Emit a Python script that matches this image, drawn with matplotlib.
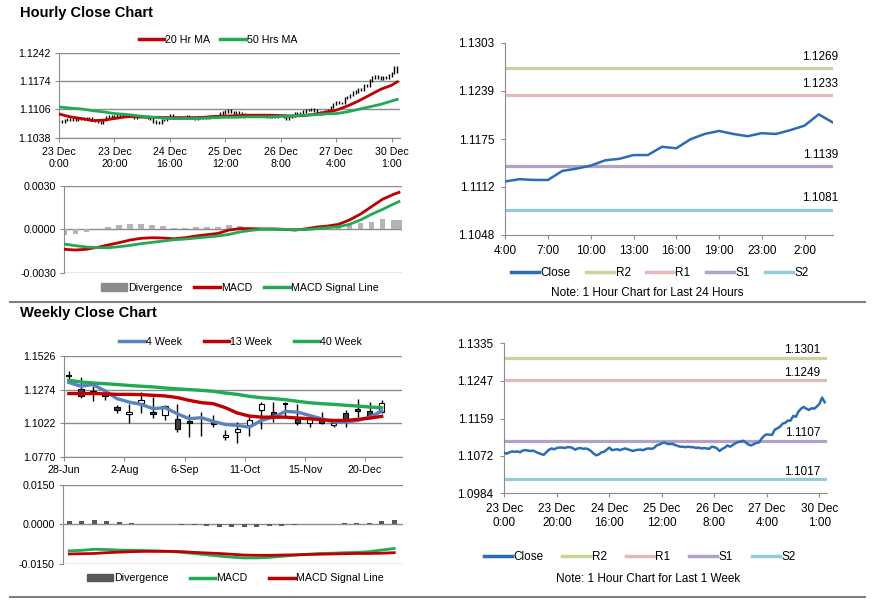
import numpy as np
import matplotlib
matplotlib.use("Agg")
import matplotlib.pyplot as plt
from matplotlib.lines import Line2D
from matplotlib.patches import Patch, Rectangle

plt.rcParams["font.family"] = ["Liberation Sans", "DejaVu Sans"]

# ---------------- data ----------------
# hourly closes, 23 Dec 0:00 -> 30 Dec ~3:00 (last 24 of them are the "24 hours" chart)
day_close = [1.1119, 1.1122, 1.1121, 1.1121, 1.1133, 1.1136, 1.1140, 1.1147, 1.1149, 1.1154, 1.1154, 1.1165,
             1.1163, 1.1175, 1.1182, 1.1186, 1.1182, 1.1179, 1.1183, 1.1182, 1.1187, 1.1193, 1.1208, 1.1197]
early_close = [1.1078, 1.1077, 1.1080, 1.1082, 1.1081, 1.1082, 1.1080, 1.1084, 1.1085, 1.1084,
               1.1083, 1.1084, 1.1081, 1.1078, 1.1076, 1.1074, 1.1080, 1.1086, 1.1089, 1.1087,
               1.1090, 1.1091, 1.1091, 1.1090, 1.1092, 1.1092, 1.1090, 1.1086, 1.1089, 1.1090,
               1.1088, 1.1089, 1.1087, 1.1083, 1.1077, 1.1073, 1.1075, 1.1080, 1.1081, 1.1086,
               1.1091, 1.1085, 1.1086, 1.1087, 1.1085, 1.1087, 1.1089, 1.1087, 1.1085, 1.1083,
               1.1085, 1.1086, 1.1086, 1.1085, 1.1088, 1.1089, 1.1088, 1.1090, 1.1096, 1.1098,
               1.1101, 1.1103, 1.1100, 1.1099, 1.1100, 1.1097, 1.1095, 1.1093, 1.1093, 1.1092,
               1.1093, 1.1092, 1.1092, 1.1090, 1.1091, 1.1089, 1.1090, 1.1089, 1.1088, 1.1093,
               1.1092, 1.1089, 1.1083, 1.1088, 1.1091, 1.1096, 1.1093, 1.1097, 1.1101, 1.1104,
               1.1105, 1.1107, 1.1103, 1.1098, 1.1096, 1.1099, 1.1102, 1.1103, 1.1112]
week_close = early_close + day_close

hour_labels = ["23 Dec\n0:00", "23 Dec\n20:00", "24 Dec\n16:00", "25 Dec\n12:00",
               "26 Dec\n8:00", "27 Dec\n4:00", "30 Dec\n1:00"]
day_labels = ["4:00", "7:00", "10:00", "13:00", "16:00", "19:00", "23:00", "2:00"]

# moving averages and MACD on the hourly chart, read every 4 hours (plus the last hour)
ma_hours = list(range(0, 121, 4)) + [122]
ma20 = [1.1095, 1.1088, 1.1084, 1.1079, 1.1080, 1.1084, 1.1088, 1.1089, 1.1087, 1.1087, 1.1086, 1.1086,
        1.1086, 1.1087, 1.1089, 1.1090, 1.1091, 1.1092, 1.1092, 1.1092, 1.1091, 1.1090, 1.1091, 1.1094,
        1.1099, 1.1104, 1.1114, 1.1126, 1.1140, 1.1154, 1.1164, 1.1172]
ma50 = [1.1112, 1.1109, 1.1107, 1.1103, 1.1100, 1.1096, 1.1094, 1.1091, 1.1088, 1.1086, 1.1084, 1.1084,
        1.1084, 1.1085, 1.1086, 1.1087, 1.1087, 1.1088, 1.1088, 1.1088, 1.1089, 1.1090, 1.1092, 1.1093,
        1.1095, 1.1096, 1.1100, 1.1106, 1.1112, 1.1118, 1.1126, 1.1130]
h_macd = [-0.00138, -0.00143, -0.00138, -0.00125, -0.00108, -0.00092, -0.00074, -0.00062, -0.00058,
          -0.00060, -0.00065, -0.00058, -0.00046, -0.00037, -0.00028, -0.00005, 0.00005, 0.00005,
          0.00003, 0.00003, 0.0, -0.00005, 0.00003, 0.00016, 0.00023, 0.00035, 0.00065, 0.00106,
          0.00157, 0.00208, 0.00242, 0.00256]
h_signal = [-0.00102, -0.00113, -0.00122, -0.00127, -0.00127, -0.00120, -0.00111, -0.00099, -0.00090,
            -0.00081, -0.00072, -0.00067, -0.00060, -0.00053, -0.00046, -0.00035, -0.00018, -0.00007,
            0.0, 0.0, 0.0, -0.00002, -0.00002, 0.00005, 0.00012, 0.00018, 0.00035, 0.00065,
            0.00104, 0.00138, 0.00175, 0.00192]

# pivot levels
day_levels = {"R2": 1.1269, "R1": 1.1233, "S1": 1.1139, "S2": 1.1081}
week_levels = {"R2": 1.1301, "R1": 1.1249, "S1": 1.1107, "S2": 1.1017}
day_yticks = ["1.1048", "1.1112", "1.1175", "1.1239", "1.1303"]
week_yticks = ["1.0984", "1.1072", "1.1159", "1.1247", "1.1335"]

# weekly candles 28-Jun .. 27-Dec
wk_labels = ["28-Jun", "2-Aug", "6-Sep", "11-Oct", "15-Nov", "20-Dec"]
wk_open = [1.1377, 1.1282, 1.1266, 1.1248, 1.1143, 1.1088, 1.1173, 1.1106, 1.1080, 1.1055, 1.1037, 1.1066,
           1.1037, 1.0916, 1.0954, 1.1005, 1.1123, 1.1103, 1.1163, 1.1055, 1.1022, 1.1055, 1.1005, 1.1100,
           1.1131, 1.1113, 1.1105]
wk_high = [1.1414, 1.1371, 1.1304, 1.1282, 1.1156, 1.1163, 1.1252, 1.1218, 1.1156, 1.1163, 1.1088, 1.1106,
           1.1085, 1.0968, 1.1030, 1.1068, 1.1181, 1.1181, 1.1181, 1.1168, 1.1080, 1.1106, 1.1042, 1.1123,
           1.1201, 1.1181, 1.1193]
wk_low = [1.1349, 1.1207, 1.1186, 1.1193, 1.1098, 1.1022, 1.1098, 1.1060, 1.1043, 1.0955, 1.0918, 1.0923,
          1.0993, 1.0898, 1.0871, 1.0929, 1.0980, 1.1030, 1.1067, 1.1005, 1.0993, 1.1012, 1.0993, 1.0993,
          1.1067, 1.1055, 1.1098]
wk_close = [1.1377, 1.1223, 1.1251, 1.1223, 1.1123, 1.1103, 1.1199, 1.1093, 1.1148, 1.0980, 1.1022, 1.1062,
            1.1012, 1.0934, 1.0980, 1.1042, 1.1163, 1.1067, 1.1163, 1.1022, 1.1055, 1.1022, 1.1022, 1.1055,
            1.1113, 1.1075, 1.1173]
ma4w = [1.1327, 1.1299, 1.1312, 1.1264, 1.1206, 1.1180, 1.1163, 1.1131, 1.1138, 1.1093, 1.1055, 1.1063,
        1.1035, 1.1012, 1.1005, 1.0992, 1.1042, 1.1067, 1.1110, 1.1105, 1.1080, 1.1055, 1.1030, 1.1030,
        1.1042, 1.1067, 1.1113]
ma13w = [1.1244, 1.1244, 1.1244, 1.1242, 1.1238, 1.1238, 1.1236, 1.1231, 1.1226, 1.1214, 1.1193, 1.1176,
         1.1168, 1.1138, 1.1098, 1.1075, 1.1067, 1.1067, 1.1067, 1.1060, 1.1055, 1.1047, 1.1042, 1.1042,
         1.1050, 1.1060, 1.1073]
ma40w = [1.1344, 1.1331, 1.1323, 1.1318, 1.1312, 1.1305, 1.1299, 1.1294, 1.1286, 1.1279, 1.1274, 1.1268,
         1.1261, 1.1248, 1.1238, 1.1223, 1.1213, 1.1206, 1.1198, 1.1186, 1.1175, 1.1168, 1.1163, 1.1156,
         1.1150, 1.1143, 1.1138]
w_macd = [-0.0101, -0.0099, -0.0095, -0.0096, -0.0098, -0.0099, -0.0100, -0.0101, -0.0103, -0.0107,
          -0.0111, -0.0116, -0.0121, -0.0125, -0.0128, -0.0128, -0.0126, -0.0122, -0.0118, -0.0114,
          -0.0111, -0.0110, -0.0108, -0.0107, -0.0104, -0.0098, -0.0092]
w_signal = [-0.0113, -0.0112, -0.0111, -0.0108, -0.0106, -0.0104, -0.0103, -0.0103, -0.0103, -0.0104,
            -0.0107, -0.0109, -0.0111, -0.0114, -0.0117, -0.0118, -0.0118, -0.0117, -0.0116, -0.0115,
            -0.0114, -0.0113, -0.0112, -0.0111, -0.0111, -0.0110, -0.0108]

# ---------------- styling ----------------
RED, GREEN, BLUE = "#c00000", "#1faa55", "#5b82c0"
CLOSE_BLUE = "#2a6db5"
LEVEL_COLORS = {"R2": "#c3d69b", "R1": "#e6b9b8", "S1": "#b3a2c7", "S2": "#93cddd"}
GRID = "#8c8c8c"
SMALL, BIG = 7.7, 8.5

W, H = 873, 601
fig = plt.figure(figsize=(W / 100, H / 100), dpi=100)


def add_ax(x0, y0, x1, y1):
    # axes placed by pixel box (left, top, right, bottom)
    return fig.add_axes([x0 / W, 1 - y1 / H, (x1 - x0) / W, (y1 - y0) / H])


def excel_look(ax, size, grid=True):
    ax.spines["top"].set_visible(False)
    ax.spines["right"].set_visible(False)
    ax.spines["left"].set_color(GRID)
    ax.spines["bottom"].set_color(GRID)
    ax.tick_params(colors=GRID, labelcolor="black", labelsize=size, length=3, width=0.8, pad=3)
    if grid:
        ax.yaxis.grid(True, color=GRID, lw=1)
        ax.set_axisbelow(True)


def legend_at(ax, handles, labels, x, y, size, spacing):
    ax.legend(handles, labels, loc="center", bbox_to_anchor=(x / W, 1 - y / H),
              bbox_transform=fig.transFigure, ncol=len(labels), frameon=False,
              fontsize=size, handlelength=2.4, handletextpad=0.1, columnspacing=spacing,
              borderpad=0, borderaxespad=0)


hours = np.arange(len(week_close))
closes = np.array(week_close)
opens = np.r_[closes[0], closes[:-1]]
wick = 0.0003  # minimum visible candle size

# ---------------- titles and separators ----------------
fig.text(20 / W, 1 - 13 / H, "Hourly Close Chart", fontsize=10.5, fontweight="bold", va="center")
fig.text(20 / W, 1 - 313 / H, "Weekly Close Chart", fontsize=10.5, fontweight="bold", va="center")
for yy in [302, 597]:
    fig.add_artist(Line2D([10 / W, 865 / W], [1 - yy / H, 1 - yy / H], color="#808080", lw=1.5))

# ---------------- hourly candles + MAs ----------------
ax1 = add_ax(59, 52.7, 400, 137.7)
excel_look(ax1, SMALL)
ax1.vlines(hours, np.minimum(opens, closes) - wick, np.maximum(opens, closes) + wick,
           color="black", lw=1, zorder=2)
ax1.plot(ma_hours, ma20, color=RED, lw=2, zorder=3)
ax1.plot(ma_hours, ma50, color=GREEN, lw=2, zorder=3)
ax1.set_xlim(0, 123)
ax1.set_ylim(1.1038, 1.1242)
ax1.set_yticks([1.1038, 1.1106, 1.1174, 1.1242])
ax1.set_yticklabels(["%.4f" % v for v in [1.1038, 1.1106, 1.1174, 1.1242]])
ax1.set_xticks(range(0, 121, 20))
ax1.set_xticklabels(hour_labels)
ax1.tick_params(axis="x", pad=4)
legend_at(ax1, [Line2D([], [], color=RED, lw=2.5), Line2D([], [], color=GREEN, lw=2.5)],
          ["20 Hr MA", "50 Hrs MA"], 218, 40, SMALL, 0.9)

# ---------------- hourly MACD ----------------
ax2 = add_ax(64.3, 186, 401.7, 272.7)
excel_look(ax2, SMALL)
ax2.spines["bottom"].set_visible(False)
h_div = np.array(h_macd) - np.array(h_signal)
ax2.bar(ma_hours, h_div, width=2.0, color="#b4b4b4", zorder=2)
ax2.plot(ma_hours, h_macd, color=RED, lw=2, zorder=3)
ax2.plot(ma_hours, h_signal, color=GREEN, lw=2, zorder=3)
ax2.set_xlim(0, 123)
ax2.set_ylim(-0.003, 0.003)
ax2.set_yticks([-0.003, 0, 0.003])
ax2.set_yticklabels(["%.4f" % v for v in [-0.003, 0, 0.003]])
ax2.tick_params(axis="x", length=0, labelbottom=False)
legend_at(ax2, [Patch(color="#8c8c8c"), Line2D([], [], color=RED, lw=2.5), Line2D([], [], color=GREEN, lw=2.5)],
          ["Divergence", "MACD", "MACD Signal Line"], 240, 287.7, SMALL, 1.1)

# ---------------- last 24 hours ----------------
ax3 = add_ax(505.3, 42.7, 833, 235)
excel_look(ax3, BIG, grid=False)
for name, lvl in day_levels.items():
    ax3.axhline(lvl, color=LEVEL_COLORS[name], lw=2.3, zorder=2)
    ax3.annotate("%.4f" % lvl, xy=(1, lvl), xycoords=("axes fraction", "data"), xytext=(3.6, 8.5),
                 textcoords="offset points", ha="right", va="center", fontsize=BIG)
ax3.plot(range(len(day_close)), day_close, color=CLOSE_BLUE, lw=1.8, zorder=3)
ax3.set_xlim(0, len(day_close) - 1)
ax3.set_ylim(float(day_yticks[0]), float(day_yticks[-1]))
ax3.set_yticks([float(t) for t in day_yticks])
ax3.set_yticklabels(day_yticks)
ax3.set_xticks(range(0, 22, 3))
ax3.set_xticklabels(day_labels)
ax3.tick_params(axis="y", pad=5)
ax3.tick_params(axis="x", pad=4)
handles = [Line2D([], [], color=CLOSE_BLUE, lw=2.5)] + \
          [Line2D([], [], color=LEVEL_COLORS[n], lw=2.5) for n in day_levels]
legend_at(ax3, handles, ["Close"] + list(day_levels), 660, 273, BIG, 1.3)
fig.text(647.5 / W, 1 - 292.7 / H, "Note: 1 Hour Chart for Last 24 Hours", fontsize=BIG,
         ha="center", va="center")

# ---------------- weekly candles + MAs ----------------
ax4 = add_ax(64.3, 356, 401.7, 456.7)
excel_look(ax4, SMALL)
wk = np.arange(len(wk_close))
for x, o, hi, lo, c in zip(wk, wk_open, wk_high, wk_low, wk_close):
    ax4.vlines(x, lo, hi, color="black", lw=1, zorder=2)
    if o == c:
        ax4.hlines(c, x - 0.22, x + 0.22, color="black", lw=1.5, zorder=3)
    else:
        face = "#404040" if c < o else "white"
        ax4.add_patch(Rectangle((x - 0.22, min(o, c)), 0.44, abs(c - o), facecolor=face,
                                edgecolor="black", lw=0.8, zorder=3))
ax4.plot(wk, ma4w, color=BLUE, lw=2.4, zorder=4)
ax4.plot(wk, ma13w, color=RED, lw=2.4, zorder=4)
ax4.plot(wk, ma40w, color=GREEN, lw=2.4, zorder=4)
ax4.set_xlim(-0.38, len(wk) + 0.66)
ax4.set_ylim(1.0770, 1.1526)
ax4.set_yticks([1.0770, 1.1022, 1.1274, 1.1526])
ax4.set_yticklabels(["%.4f" % v for v in [1.0770, 1.1022, 1.1274, 1.1526]])
ax4.set_xticks(wk[::5] - 0.38)
ax4.set_xticklabels(wk_labels)
legend_at(ax4, [Line2D([], [], color=c, lw=2.5) for c in [BLUE, RED, GREEN]],
          ["4 Week", "13 Week", "40 Week"], 240.8, 342, SMALL, 2.0)

# ---------------- weekly MACD ----------------
ax5 = add_ax(63, 485, 403, 563.7)
excel_look(ax5, SMALL)
ax5.spines["bottom"].set_visible(False)
w_div = np.array(w_macd) - np.array(w_signal)
ax5.bar(wk, w_div, width=0.4, color="#595959", zorder=2)
ax5.plot(wk, w_macd, color=GREEN, lw=2, zorder=3)
ax5.plot(wk, w_signal, color=RED, lw=2, zorder=3)
ax5.set_xlim(-0.5, len(wk) - 0.3)
ax5.set_ylim(-0.015, 0.015)
ax5.set_yticks([-0.015, 0, 0.015])
ax5.set_yticklabels(["%.4f" % v for v in [-0.015, 0, 0.015]])
ax5.tick_params(axis="x", length=0, labelbottom=False)
legend_at(ax5, [Patch(color="#595959"), Line2D([], [], color=GREEN, lw=2.5), Line2D([], [], color=RED, lw=2.5)],
          ["Divergence", "MACD", "MACD Signal Line"], 235.3, 578.3, SMALL, 2.0)

# ---------------- last week hourly ----------------
ax6 = add_ax(504.3, 343.3, 827.3, 493.3)
excel_look(ax6, BIG, grid=False)
for name, lvl in week_levels.items():
    ax6.axhline(lvl, color=LEVEL_COLORS[name], lw=2.3, zorder=2)
    ax6.annotate("%.4f" % lvl, xy=(1, lvl), xycoords=("axes fraction", "data"), xytext=(-5, 5.4),
                 textcoords="offset points", ha="right", va="center", fontsize=BIG)
ax6.plot(hours, week_close, color=CLOSE_BLUE, lw=1.8, zorder=3)
ax6.set_xlim(0, 123)
ax6.set_ylim(float(week_yticks[0]), float(week_yticks[-1]))
ax6.set_yticks([float(t) for t in week_yticks])
ax6.set_yticklabels(week_yticks)
ax6.set_xticks(range(0, 121, 20))
ax6.set_xticklabels(hour_labels)
ax6.tick_params(axis="y", pad=5)
ax6.tick_params(axis="x", pad=4)
handles = [Line2D([], [], color=CLOSE_BLUE, lw=2.5)] + \
          [Line2D([], [], color=LEVEL_COLORS[n], lw=2.5) for n in week_levels]
legend_at(ax6, handles, ["Close"] + list(week_levels), 639.7, 557.3, BIG, 1.6)
fig.text(647.8 / W, 1 - 579.3 / H, "Note: 1 Hour Chart for Last 1 Week", fontsize=BIG,
         ha="center", va="center")

fig.savefig("out.png", dpi=100)
